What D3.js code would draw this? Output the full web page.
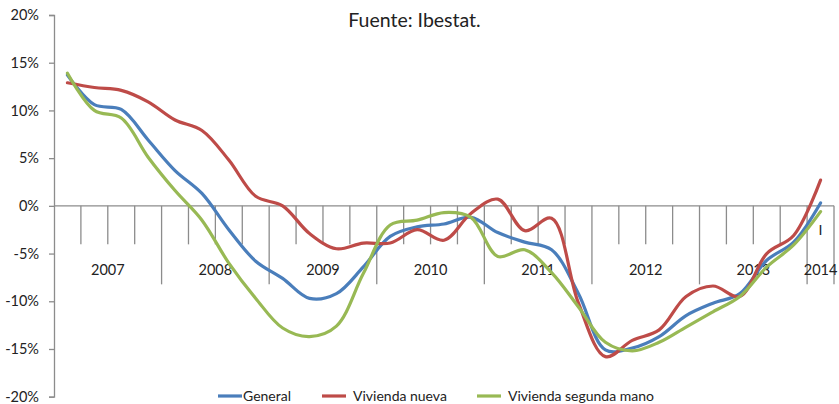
<!DOCTYPE html>
<html>
<head>
<meta charset="utf-8">
<script src="https://d3js.org/d3.v7.min.js"></script>
<style>
  body { margin: 0; background: #fff; }
  text { font-family: Lato, "Open Sans", sans-serif; fill: #222; }
</style>
</head>
<body>
<script>
// Years of the hierarchical category axis and how many quarters each has
var years = ["2007", "2008", "2009", "2010", "2011", "2012", "2013", "2014"];
var quartersPerYear = [4, 4, 4, 4, 4, 4, 4, 1];
// Quarter labels (only the last one is shown in the original)
var quarterLabels = ["", "", "", "", "", "", "", "", "", "", "", "", "", "", "", "", "", "", "", "", "", "", "", "", "", "", "", "", "I"];

// Series values (%)
var general = [13.7, 10.6, 10.1, 6.9, 3.7, 1.3, -2.5, -5.8, -7.6, -9.7, -9.2, -6.4, -3.2, -2.2, -1.9, -1.2, -2.8, -3.8, -4.6, -9.2, -15.1, -14.9, -13.7, -11.5, -10.2, -9.2, -5.7, -3.8, 0.3];
var viviendaNueva = [12.9, 12.4, 12.1, 10.9, 9.0, 7.9, 4.8, 1.0, 0.0, -2.9, -4.5, -3.9, -3.9, -2.5, -3.6, -0.8, 0.7, -2.6, -1.3, -10.2, -15.8, -14.1, -13.0, -9.5, -8.4, -9.5, -5.0, -3.1, 2.7];
var viviendaSegunda = [13.9, 10.0, 9.2, 5.1, 1.6, -1.5, -6.0, -9.7, -12.8, -13.7, -12.6, -7.1, -2.0, -1.5, -0.7, -1.2, -5.3, -4.6, -7.0, -10.6, -14.3, -15.2, -14.3, -12.7, -11.1, -9.5, -6.4, -4.1, -0.6];

var yTicks = [-20, -15, -10, -5, 0, 5, 10, 15, 20];

var seriesNames = ["General", "Vivienda nueva", "Vivienda segunda mano"];
var seriesColors = ["#4a7ebb", "#be4b48", "#98b954"];

// Define SVG area dimensions
var svgWidth = 839;
var svgHeight = 404;

var margin = { top: 15, right: 5, bottom: 8, left: 54 };
var plotRight = 834;
var plotBottom = 396.7;

var svg = d3.select("body")
  .append("svg")
  .attr("width", svgWidth)
  .attr("height", svgHeight);

// Band scale: one band per quarter
var quarterIds = d3.range(quarterLabels.length);
var xScale = d3.scaleBand()
  .domain(quarterIds)
  .range([margin.left, plotRight])
  .padding(0);

var yScale = d3.scaleLinear()
  .domain([-20, 20])
  .range([plotBottom, margin.top]);

var axisColor = "#8c8c8c";

// Y axis
var leftAxis = d3.axisLeft(yScale)
  .tickValues(yTicks)
  .tickSize(5)
  .tickPadding(10)
  .tickFormat(d => d + "%");

var yAxisG = svg.append("g")
  .attr("transform", `translate(${margin.left}, 0)`)
  .call(leftAxis);
yAxisG.select(".domain").attr("stroke", axisColor).attr("stroke-width", 1.3);
yAxisG.selectAll(".tick line").attr("stroke", axisColor).attr("stroke-width", 1.3);
yAxisG.selectAll("text")
  .style("font-size", "14.5px")
  .attr("fill", "#222");

// X axis at 0%
var y0 = yScale(0);
svg.append("line")
  .attr("x1", margin.left)
  .attr("x2", plotRight)
  .attr("y1", y0)
  .attr("y2", y0)
  .attr("stroke", axisColor)
  .attr("stroke-width", 1.3);

// Quarter boundaries: short ticks inside a year, long ticks between years
var yearStarts = [];
var acc = 0;
quartersPerYear.forEach(function(n) {
  yearStarts.push(acc);
  acc += n;
});
var boundaries = d3.range(1, quarterIds.length + 1);

svg.append("g")
  .selectAll("line")
  .data(boundaries)
  .enter()
  .append("line")
  .attr("x1", d => d < quarterIds.length ? xScale(d) : xScale(d - 1) + xScale.bandwidth())
  .attr("x2", d => d < quarterIds.length ? xScale(d) : xScale(d - 1) + xScale.bandwidth())
  .attr("y1", y0)
  .attr("y2", d => (yearStarts.indexOf(d) >= 0 || d === quarterIds.length) ? y0 + 78.5 : y0 + 38.5)
  .attr("stroke", axisColor)
  .attr("stroke-width", 1.3);

// Quarter labels
svg.append("g")
  .selectAll("text")
  .data(quarterIds)
  .enter()
  .append("text")
  .attr("x", d => xScale(d) + xScale.bandwidth() / 2)
  .attr("y", y0 + 29)
  .attr("text-anchor", "middle")
  .style("font-size", "14px")
  .text(d => quarterLabels[d]);

// Year labels
svg.append("g")
  .selectAll("text")
  .data(years)
  .enter()
  .append("text")
  .attr("x", function(d, i) {
    var start = xScale(yearStarts[i]);
    var end = xScale(yearStarts[i] + quartersPerYear[i] - 1) + xScale.bandwidth();
    return (start + end) / 2;
  })
  .attr("y", y0 + 69)
  .attr("text-anchor", "middle")
  .style("font-size", "14.5px")
  .text(d => d);

// Lines
var line = d3.line()
  .x((d, i) => xScale(i) + xScale.bandwidth() / 2)
  .y(d => yScale(d))
  .curve(d3.curveCatmullRom.alpha(0.5));

var seriesData = [general, viviendaNueva, viviendaSegunda];

svg.append("g")
  .selectAll("path")
  .data(seriesData)
  .enter()
  .append("path")
  .attr("d", line)
  .attr("fill", "none")
  .attr("stroke", (d, i) => seriesColors[i])
  .attr("stroke-width", 3.2)
  .attr("stroke-linejoin", "round")
  .attr("stroke-linecap", "round");

// Title
svg.append("text")
  .attr("x", 414.5)
  .attr("y", 27)
  .attr("text-anchor", "middle")
  .style("font-size", "19.5px")
  .attr("fill", "#333")
  .text("Fuente: Ibestat.");

// Legend
var legendX = [218, 322, 477];
var legend = svg.append("g")
  .selectAll("g")
  .data(seriesNames)
  .enter()
  .append("g")
  .attr("transform", (d, i) => `translate(${legendX[i]}, 396)`);

legend.append("line")
  .attr("x1", 0)
  .attr("x2", 24)
  .attr("y1", 0)
  .attr("y2", 0)
  .attr("stroke", (d, i) => seriesColors[i])
  .attr("stroke-width", 3.2);

legend.append("text")
  .attr("x", (d, i) => i === 0 ? 25 : 31)
  .attr("y", 5)
  .style("font-size", "14px")
  .text(d => d);
</script>
</body>
</html>
